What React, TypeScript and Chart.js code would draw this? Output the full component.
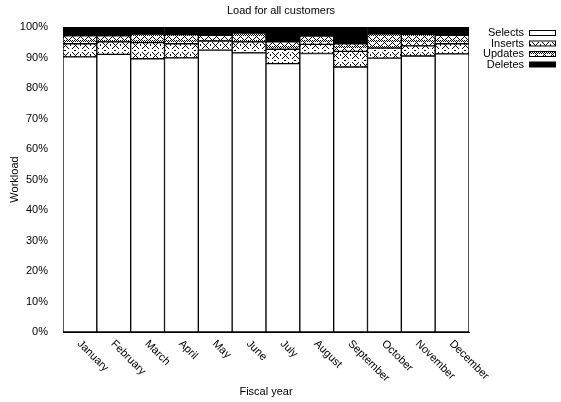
import React, { useEffect, useRef } from "react";
import { Chart, registerables } from "chart.js";

Chart.register(...registerables);

const months = ["January", "February", "March", "April", "May", "June", "July", "August", "September", "October", "November", "December"];
const selects = [90.2, 91.0, 89.6, 89.9, 92.4, 91.5, 88.0, 91.3, 86.9, 89.8, 90.5, 91.2];
const inserts = [4.3, 4.1, 5.3, 4.6, 3.0, 3.6, 4.7, 3.0, 5.1, 3.3, 3.3, 3.3];
const updates = [2.6, 2.0, 2.8, 3.0, 1.9, 2.9, 2.4, 2.7, 2.5, 4.7, 3.8, 2.8];
const deletes = [2.9, 2.9, 2.3, 2.5, 2.7, 2.0, 4.9, 3.0, 5.5, 2.2, 2.4, 2.7];
const seriesNames = ["Selects", "Inserts", "Updates", "Deletes"];
const yTicks = [0, 10, 20, 30, 40, 50, 60, 70, 80, 90, 100];

const FONT = "'Liberation Sans', Arial, Helvetica, sans-serif";

function tileFrom(w: number, h: number, fn: (x: number, y: number) => boolean) {
  const t = document.createElement("canvas");
  t.width = w;
  t.height = h;
  const c = t.getContext("2d")!;
  c.fillStyle = "#fff";
  c.fillRect(0, 0, w, h);
  c.fillStyle = "#000";
  for (let y = 0; y < h; y++) {
    for (let x = 0; x < w; x++) {
      if (fn(x, y)) c.fillRect(x, y, 1, 1);
    }
  }
  return t;
}

function makeInsertsPattern(ctx: CanvasRenderingContext2D) {
  const t = tileFrom(10, 10, (x, y) => {
    const onX = (x >= 2 && x <= 8 && y >= 2 && y <= 8) && (x === y || x + y === 10);
    const dot = (x === 0 && (y === 4 || y === 5)) || (y === 0 && (x === 4 || x === 5));
    return onX || dot;
  });
  return ctx.createPattern(t, "repeat")!;
}

function makeUpdatesPattern(ctx: CanvasRenderingContext2D) {
  const t = tileFrom(8, 6, (x, y) => {
    const zig = y === 1 + Math.abs((x % 8) - 4) / 1.33 | 0;
    const m = ((x - y) % 8 + 8) % 8;
    const p = (x + y) % 8;
    const diag = (m === 0 || p === 0) && (x + y) % 2 === 0;
    const chk = y >= 4 && (x + y) % 2 === 0;
    return diag || chk || (zig && x % 2 === 1);
  });
  return ctx.createPattern(t, "repeat")!;
}

export default function App() {
  const ref = useRef<HTMLCanvasElement | null>(null);

  useEffect(() => {
    document.body.style.margin = "0";
    const canvas = ref.current!;
    const ctx = canvas.getContext("2d")!;
    const insPat = makeInsertsPattern(ctx);
    const updPat = makeUpdatesPattern(ctx);
    const fills: any[] = ["#ffffff", insPat, updPat, "#000000"];

    const textPlugin = {
      id: "texts",
      afterDraw(chart: any) {
        const c: CanvasRenderingContext2D = chart.ctx;
        const area = chart.chartArea;
        c.save();
        c.fillStyle = "#000";
        c.font = `11px ${FONT}`;
        c.textAlign = "center";
        c.textBaseline = "middle";
        c.fillText("Load for all customers", 281, 11);
        c.fillText("Fiscal year", (area.left + area.right) / 2, 392);
        c.save();
        c.translate(15, (area.top + area.bottom) / 2);
        c.rotate(-Math.PI / 2);
        c.fillText("Workload", 0, 0);
        c.restore();
        const xs = chart.scales.x;
        const labels = chart.data.labels as string[];
        labels.forEach((lab, i) => {
          const x = xs.getPixelForTick(i);
          c.save();
          c.translate(x - 1, area.bottom + 10);
          c.rotate(Math.PI / 4);
          c.textAlign = "left";
          c.textBaseline = "middle";
          c.fillText(lab, 0, 0);
          c.restore();
        });
        const rowY = [33, 43.5, 54, 64.5];
        chart.data.datasets.forEach((ds: any, i: number) => {
          c.textAlign = "right";
          c.textBaseline = "middle";
          c.fillStyle = "#000";
          c.fillText(ds.label, 524, rowY[i]);
          c.fillStyle = ds.backgroundColor;
          c.fillRect(529, rowY[i] - 2.5, 27, 5);
          c.strokeStyle = "#000";
          c.lineWidth = 1;
          c.strokeRect(529.5, rowY[i] - 2.5, 26, 5);
        });
        c.restore();
      },
    };

    const dataArrays = [selects, inserts, updates, deletes];
    const chart = new Chart(canvas, {
      type: "bar",
      data: {
        labels: months,
        datasets: seriesNames.map((name, i) => ({
          label: name,
          data: dataArrays[i],
          backgroundColor: fills[i],
          borderColor: "#000",
          borderWidth: 1,
          borderSkipped: false,
          categoryPercentage: 1,
          barPercentage: 1,
        })),
      },
      options: {
        responsive: false,
        animation: false,
        layout: { padding: { left: 0, right: 92, top: 27, bottom: 62 } },
        plugins: {
          legend: { display: false },
          title: { display: false },
          tooltip: { enabled: false },
        },
        scales: {
          x: {
            stacked: true,
            grid: { display: false },
            border: { display: true, color: "#000", width: 1 },
            ticks: { display: false },
          },
          y: {
            stacked: true,
            min: 0,
            max: 100,
            afterFit: (s: any) => {
              s.width = 63;
            },
            afterBuildTicks: (s: any) => {
              s.ticks = yTicks.map((v) => ({ value: v }));
            },
            grid: { display: false },
            border: { display: true, color: "#000", width: 1 },
            ticks: {
              color: "#000",
              padding: 7,
              font: { family: FONT, size: 11 },
              callback: (v: any) => v + "%",
            },
          },
        },
      },
      plugins: [textPlugin],
    });
    return () => chart.destroy();
  }, []);

  return (
    <div style={{ width: 561, height: 402, background: "#fff" }}>
      <canvas ref={ref} width={561} height={402} style={{ display: "block" }} />
    </div>
  );
}
